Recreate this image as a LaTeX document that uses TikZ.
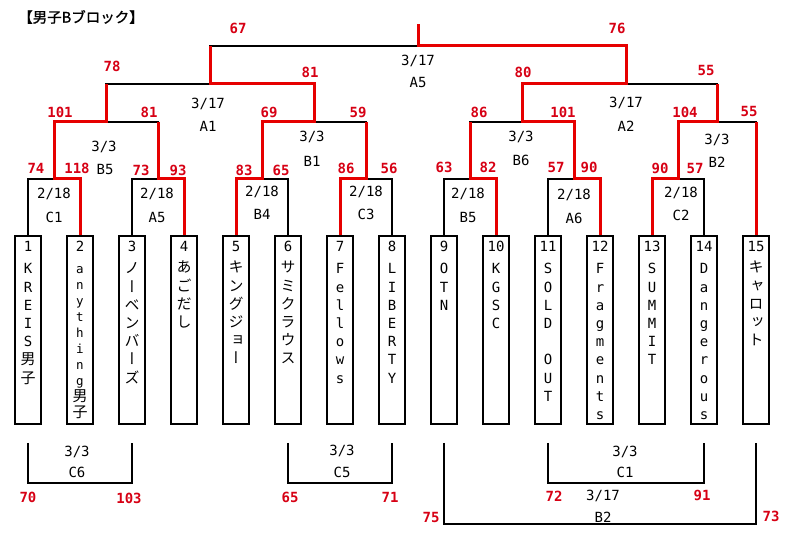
\documentclass[tikz,border=0pt]{standalone}
\usepackage{fontspec}
\setmainfont{DejaVu Sans}
\newfontfamily\monof{DejaVu Sans Mono}
\newfontfamily\cjk{Noto Sans CJK JP}
\newfontfamily\cjkv[RawFeature=+vert]{Noto Sans CJK JP}
\newfontfamily\cjkb[FakeBold=1.2]{Noto Sans CJK JP}
\usetikzlibrary{calc}
\definecolor{lred}{RGB}{230,0,0}
\definecolor{nred}{RGB}{215,0,20}
\newcommand\J{\cjkv\fontsize{15}{15}\selectfont}
\newcommand\vstack[6][]{%
  \foreach \c [count=\k from 0] in {#6} {
    \node[ch,#1] (#2-\k) at (#3,{#4+\k*#5+5}) {\c};
  }}
\tikzset{
  blk/.style={line width=2pt, black},
  rl/.style={line width=3pt, lred},
  teambox/.style={draw, line width=2pt, minimum width=26pt, minimum height=188pt, inner sep=0pt},
  score/.style={text=nred, font=\monof\bfseries\fontsize{14}{14}\selectfont, inner sep=0pt},
  info/.style={font=\monof\fontsize{14}{14}\selectfont, inner sep=0pt},
  ch/.style={font=\monof\fontsize{14}{14}\selectfont, inner sep=0pt, anchor=base},
  jp/.style={font=\J},
  small/.style={font=\monof\fontsize{12.5}{12.5}\selectfont},
}
\begin{document}
\begin{tikzpicture}[x=1pt,y=-1pt]
\fill[white] (0,0) rectangle (793,534);
\useasboundingbox (0,0) rectangle (793,534);

% title
\node[font=\cjkb\fontsize{14.5}{14.5}\selectfont, inner sep=0pt] (title) at (81,17) {【男子Bブロック】};

% team boxes
\foreach \i in {1,...,15} {
  \node[teambox] (t\i) at ({28+52*(\i-1)},330) {};
  \node[ch] (n\i) at ({28+52*(\i-1)},252) {\i};
}

% box texts
\vstack{v1}{28}{269}{18.2}{K,R,E,I,S,{\J 男},{\J 子}}
\vstack[small]{v2}{80}{269}{15.9}{a,n,y,t,h,i,n,g,{\J 男},{\J 子}}
\vstack[jp]{v3}{132}{269}{18.2}{ノ,ー,ベ,ン,バ,ー,ズ}
\vstack[jp]{v4}{184}{268}{18.2}{あ,ご,だ,し}
\vstack[jp]{v5}{236}{268}{18.2}{キ,ン,グ,ジ,ョ,ー}
\vstack[jp]{v6}{288}{268}{18.2}{サ,ミ,ク,ラ,ウ,ス}
\vstack{v7}{340}{269}{18.2}{F,e,l,l,o,w,s}
\vstack{v8}{392}{269}{18.2}{L,I,B,E,R,T,Y}
\vstack{v9}{444}{269}{18.2}{O,T,N}
\vstack{v10}{496}{269}{18.2}{K,G,S,C}
\vstack{v11}{548}{269}{18.2}{S,O,L,D,{},O,U,T}
\vstack{v12}{600}{269}{18.2}{F,r,a,g,m,e,n,t,s}
\vstack{v13}{652}{269}{18.2}{S,U,M,M,I,T}
\vstack{v14}{704}{269}{18.2}{D,a,n,g,e,r,o,u,s}
\vstack[jp]{v15}{756}{268}{18.2}{キ,ャ,ロ,ッ,ト}

% junctions
\coordinate (jC1) at (54,179);
\coordinate (jA5a) at (158,179);
\coordinate (jB4) at (262,179);
\coordinate (jC3) at (366,179);
\coordinate (jB5r) at (470,179);
\coordinate (jA6) at (574,179);
\coordinate (jC2) at (678,179);
\coordinate (jB5) at (106,122);
\coordinate (jB1) at (314,122);
\coordinate (jB6) at (522,122);
\coordinate (jB2) at (717,122);
\coordinate (jA1) at (210,84);
\coordinate (jA2) at (626,84);
\coordinate (jA5) at (418,46);
\coordinate (top) at (418,24);

% black bracket lines
\draw[blk] (t1.north) |- (jC1) -| (t2.north);
\draw[blk] (t3.north) |- (jA5a) -| (t4.north);
\draw[blk] (t5.north) |- (jB4) -| (t6.north);
\draw[blk] (t7.north) |- (jC3) -| (t8.north);
\draw[blk] (t9.north) |- (jB5r) -| (t10.north);
\draw[blk] (t11.north) |- (jA6) -| (t12.north);
\draw[blk] (t13.north) |- (jC2) -| (t14.north);
\draw[blk] (jC1) |- (jB5) -| (jA5a);
\draw[blk] (jB4) |- (jB1) -| (jC3);
\draw[blk] (jB5r) |- (jB6) -| (jA6);
\draw[blk] (jC2) |- (jB2) -| (t15.north);
\draw[blk] (jB5) |- (jA1) -| (jB1);
\draw[blk] (jB6) |- (jA2) -| (jB2);
\draw[blk] (jA1) |- (jA5) -| (jA2);

% red winner paths
\draw[rl] (t2.north) |- (jC1) |- (jB5) -- (jB5 |- jA1);
\draw[rl] (t4.north) |- (jA5a) -- (jA5a |- jB5);
\draw[rl] (t5.north) |- (jB4) |- (jB1) |- (jA1) -- (jA1 |- jA5);
\draw[rl] (t7.north) |- (jC3) -- (jC3 |- jB1);
\draw[rl] (t10.north) |- (jB5r) -- (jB5r |- jB6);
\draw[rl] (t12.north) |- (jA6) |- (jB6) |- (jA2) |- (jA5) -- (top);
\draw[rl] (t13.north) |- (jC2) |- (jB2) -- (jB2 |- jA2);
\draw[rl] (t15.north) -- (t15.north |- jB2);

% bottom brackets
\coordinate (c6l) at (28,443); \coordinate (c6r) at (132,443); \coordinate (c6m) at (80,483);
\coordinate (c5l) at (288,443); \coordinate (c5r) at (392,443); \coordinate (c5m) at (340,483);
\coordinate (c1l) at (548,443); \coordinate (c1r) at (704,443); \coordinate (c1m) at (626,483);
\coordinate (b2l) at (444,443); \coordinate (b2r) at (756,443); \coordinate (b2m) at (600,524);
\draw[blk] (c6l) |- (c6m) -| (c6r);
\draw[blk] (c5l) |- (c5m) -| (c5r);
\draw[blk] (c1l) |- (c1m) -| (c1r);
\draw[blk] (b2l) |- (b2m) -| (b2r);

% scores
\node[score] (s1) at (238,28) {67};
\node[score] (s2) at (617,28) {76};
\node[score] (s3) at (112,66) {78};
\node[score] (s4) at (310,72) {81};
\node[score] (s5) at (523,72) {80};
\node[score] (s6) at (706,71) {55};
\node[score] (s7) at (60,112) {101};
\node[score] (s8) at (149,112) {81};
\node[score] (s9) at (269,112) {69};
\node[score] (s10) at (358,112) {59};
\node[score] (s11) at (479,112) {86};
\node[score] (s12) at (563,112) {101};
\node[score] (s13) at (685,112) {104};
\node[score] (s14) at (749,112) {55};
\node[score] (s15) at (36,168) {74};
\node[score] (s16) at (77,168) {118};
\node[score] (s17) at (141,170) {73};
\node[score] (s18) at (178,170) {93};
\node[score] (s19) at (244,170) {83};
\node[score] (s20) at (281,170) {65};
\node[score] (s21) at (346,168) {86};
\node[score] (s22) at (389,168) {56};
\node[score] (s23) at (444,167) {63};
\node[score] (s24) at (488,167) {82};
\node[score] (s25) at (556,167) {57};
\node[score] (s26) at (589,167) {90};
\node[score] (s27) at (660,168) {90};
\node[score] (s28) at (695,168) {57};
\node[score] (s29) at (28,497) {70};
\node[score] (s30) at (129,498) {103};
\node[score] (s31) at (290,497) {65};
\node[score] (s32) at (390,497) {71};
\node[score] (s33) at (554,496) {72};
\node[score] (s34) at (702,495) {91};
\node[score] (s35) at (431,517) {75};
\node[score] (s36) at (771,516) {73};

% dates and match codes
\node[info] (d1) at (418,61) {3/17};  \node[info] (m1) at (418,83) {A5};
\node[info] (d2) at (208,104) {3/17}; \node[info] (m2) at (208,126) {A1};
\node[info] (d3) at (104,147) {3/3};  \node[info] (m3) at (105,169) {B5};
\node[info] (d4) at (312,137) {3/3};  \node[info] (m4) at (312,161) {B1};
\node[info] (d5) at (626,103) {3/17}; \node[info] (m5) at (626,126) {A2};
\node[info] (d6) at (521,137) {3/3};  \node[info] (m6) at (521,160) {B6};
\node[info] (d7) at (717,140) {3/3};  \node[info] (m7) at (717,162) {B2};
\node[info] (d8) at (54,194) {2/18};  \node[info] (m8) at (54,217) {C1};
\node[info] (d9) at (157,194) {2/18}; \node[info] (m9) at (157,217) {A5};
\node[info] (d10) at (262,192) {2/18}; \node[info] (m10) at (262,214) {B4};
\node[info] (d11) at (366,192) {2/18}; \node[info] (m11) at (366,214) {C3};
\node[info] (d12) at (468,194) {2/18}; \node[info] (m12) at (468,217) {B5};
\node[info] (d13) at (574,195) {2/18}; \node[info] (m13) at (574,218) {A6};
\node[info] (d14) at (681,193) {2/18}; \node[info] (m14) at (681,215) {C2};
\node[info] (d15) at (77,452) {3/3};  \node[info] (m15) at (77,472) {C6};
\node[info] (d16) at (342,451) {3/3}; \node[info] (m16) at (342,472) {C5};
\node[info] (d17) at (625,452) {3/3}; \node[info] (m17) at (625,472) {C1};
\node[info] (d18) at (603,496) {3/17}; \node[info] (m18) at (603,517) {B2};
\end{tikzpicture}
\end{document}
